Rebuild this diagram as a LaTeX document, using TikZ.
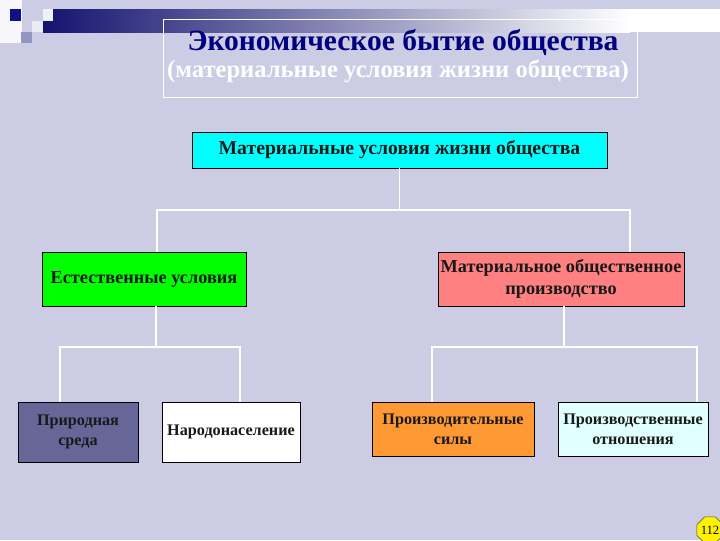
\documentclass[tikz,border=0pt]{standalone}
\usepackage{fontspec}
\setmainfont{Liberation Serif}
\usetikzlibrary{shapes.geometric,positioning}
\definecolor{slidebg}{HTML}{CCCCE4}
\definecolor{barnavy}{HTML}{141470}
\definecolor{titlenavy}{HTML}{000080}
\definecolor{matcyan}{HTML}{00FFFF}
\definecolor{natgreen}{HTML}{00FF00}
\definecolor{prodpink}{HTML}{FF8080}
\definecolor{envslate}{HTML}{666699}
\definecolor{forceorange}{HTML}{FF9933}
\definecolor{relcyan}{HTML}{E0FFFF}
\tikzset{
  box/.style={draw=black, semithick, align=center, inner sep=1pt, text=black!90,
    font=\bfseries\fontsize{13}{16}\selectfont},
  bigbox/.style={box, minimum height=1.35cm},
  smallbox/.style={box, font=\bfseries\fontsize{11.5}{14}\selectfont},
  link/.style={draw=white, line width=1.1pt}
}

\begin{document}
\begin{tikzpicture}[x=0.025cm, y=-0.025cm]

% background
\fill[slidebg] (0,0) rectangle (720,540);
\useasboundingbox (0,0) rectangle (720,540);

% corner ornament and bar
\fill[white!85!slidebg] (0,0) rectangle (22,43);
\fill[barnavy!85!blue] (10,9) rectangle (21,21);
\fill[slidebg!70!barnavy] (21,32) rectangle (32,43);
\fill[white!60!slidebg] (32,21) rectangle (43,32);
\shade[left color=barnavy, middle color=barnavy!45!white, right color=white] (43,9) rectangle (630,32);
\fill[white] (630,9) rectangle (720,32);
\fill[white!70!slidebg] (43,9) rectangle (53,21);

% title
\draw[white, thin] (163,19) rectangle (637,97);
\node[font=\bfseries\fontsize{21}{24}\selectfont, text=titlenavy] (title) at (403,42)
  {Экономическое бытие общества};
\node[font=\bfseries\fontsize{17.5}{20}\selectfont, text=white] (subtitle) at (398,71)
  {(материальные условия жизни общества)};

% boxes
\node[box, fill=matcyan, minimum width=10.375cm, minimum height=0.9cm,
  font=\bfseries\fontsize{14}{17}\selectfont] (mat) at (399.5,150)
  {Материальные условия жизни общества};
\node[bigbox, fill=natgreen, minimum width=5.1cm] (nat) at (144,279)
  {Естественные условия};
\node[bigbox, fill=prodpink, minimum width=6.15cm] (prod) at (561,279)
  {Материальное общественное\\производство};
\node[smallbox, fill=envslate, minimum width=3cm, minimum height=1.5cm] (env) at (78,432)
  {Природная\\среда};
\node[smallbox, fill=white, minimum width=3.45cm, minimum height=1.5cm] (pop) at (231,432)
  {Народонаселение};
\node[smallbox, fill=forceorange, minimum width=4.05cm, minimum height=1.35cm] (forces) at (453,429)
  {Производительные\\силы};
\node[smallbox, fill=relcyan, minimum width=3.75cm, minimum height=1.35cm] (rel) at (633,429)
  {Производственные\\отношения};

% connectors
\coordinate (jL) at (157,210);
\coordinate (jR) at (630,210);
\draw[link] (mat.south) -- (mat.south |- jL);
\draw[link] (jL |- nat.north) -- (jL) -- (jR) -- (jR |- prod.north);

\coordinate (nL) at (156,347);
\coordinate (kL) at (60,347);
\coordinate (kR) at (240,347);
\draw[link] (nat.south -| nL) -- (nL);
\draw[link] (kL |- env.north) -- (kL) -- (kR) -- (kR |- pop.north);

\coordinate (pM) at (564,347);
\coordinate (mL) at (432,347);
\coordinate (mR) at (697,347);
\draw[link] (prod.south -| pM) -- (pM);
\draw[link] (mL |- forces.north) -- (mL) -- (mR) -- (mR |- rel.north);

% page number
\node[regular polygon, regular polygon sides=8, fill=yellow, draw=black!70,
  minimum size=0.65cm, inner sep=0pt, font=\fontsize{9}{10}\selectfont] (page) at (710,530) {112};

\end{tikzpicture}
\end{document}
